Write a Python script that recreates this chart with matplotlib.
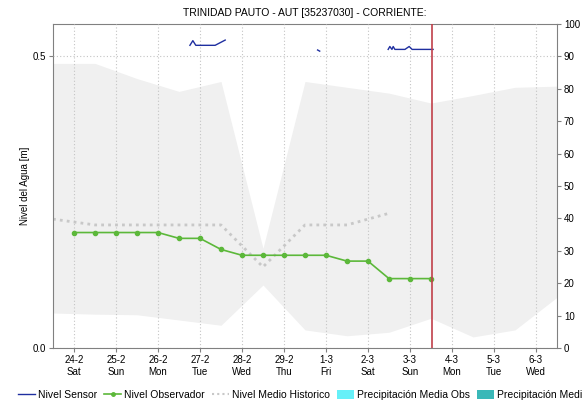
import numpy as np
import matplotlib
matplotlib.use("Agg")
import matplotlib.pyplot as plt
from matplotlib.lines import Line2D
from matplotlib.patches import Patch

plt.rcParams['font.family'] = ['Liberation Sans', 'DejaVu Sans']

# ---- data ----
day_labels = ["24-2\nSat", "25-2\nSun", "26-2\nMon", "27-2\nTue", "28-2\nWed", "29-2\nThu",
              "1-3\nFri", "2-3\nSat", "3-3\nSun", "4-3\nMon", "5-3\nTue", "6-3\nWed"]

obs_x = [0, 0.5, 1, 1.5, 2, 2.5, 3, 3.5, 4, 4.5, 5, 5.5, 6, 6.5, 7, 7.5, 8, 8.5]
obs_y = [0.198, 0.198, 0.198, 0.198, 0.198, 0.188, 0.188, 0.169, 0.159, 0.159,
         0.159, 0.159, 0.159, 0.149, 0.149, 0.119, 0.119, 0.119]

hist_x = [-0.5, 0.5, 1.5, 2.5, 3.5, 4.5, 5.5, 6.5, 7.5]
hist_y = [0.221, 0.211, 0.211, 0.211, 0.211, 0.139, 0.211, 0.211, 0.231]

band_x = [-0.5, 0.5, 1.5, 2.5, 3.5, 4.5, 5.5, 6.5, 7.5, 8.5, 9.5, 10.5, 11.5]
band_hi = [0.488, 0.488, 0.462, 0.440, 0.457, 0.171, 0.457, 0.447, 0.437, 0.420, 0.433, 0.447, 0.449]
band_lo = [0.060, 0.058, 0.057, 0.048, 0.039, 0.108, 0.031, 0.021, 0.027, 0.051, 0.019, 0.031, 0.087]

sensor_x = [2.76, 2.83, 2.90, 3.36, 3.60, np.nan, 5.80, 5.85, np.nan,
            7.48, 7.52, 7.57, 7.60, 7.64, 7.71, 7.88, 7.98, 8.05, 8.55]
sensor_y = [0.519, 0.527, 0.519, 0.519, 0.528, np.nan, 0.511, 0.509, np.nan,
            0.512, 0.517, 0.512, 0.517, 0.512, 0.512, 0.512, 0.517, 0.512, 0.512]

now_x = 8.52

title = "TRINIDAD PAUTO - AUT [35237030] - CORRIENTE:"

# ---- plot ----
fig = plt.figure(figsize=(5.82, 4.05), dpi=100)
ax = fig.add_axes([53/582, 1-348/405, (557-53)/582, (348-24)/405])

ax.fill_between(band_x, band_lo, band_hi, color='#f0f0f0', linewidth=0, zorder=1)
ax.plot(hist_x, hist_y, color='#c8c8c8', linestyle=(0, (1, 1.5)), linewidth=2, zorder=2)
ax.plot(obs_x, obs_y, color='#5cb83a', marker='o', markersize=3, linewidth=1.2, zorder=3)
ax.plot(sensor_x, sensor_y, color='#1f2fa0', linewidth=1, zorder=3)
ax.axvline(now_x, color='#c0404a', linewidth=1.2, zorder=4)

ax.set_xlim(-0.5, 11.5)
ax.set_ylim(0, 0.5 * 100 / 90)
ax.set_xticks(range(len(day_labels)))
ax.set_xticklabels(day_labels, fontsize=7)
ax.set_yticks([0.0, 0.5])
ax.set_yticklabels(["0.0", "0.5"], fontsize=7)
ax.tick_params(axis='both', length=3, color='#808080', pad=2)
ax.xaxis.grid(True, color='#c4c4c4', linestyle=(0, (1, 2)), linewidth=0.8)
ax.yaxis.grid(True, color='#c4c4c4', linestyle=(0, (1, 2)), linewidth=0.8)
ax.set_axisbelow(False)
for s in ['left', 'top', 'right']:
    ax.spines[s].set_color('#808080')
ax.spines['bottom'].set_color('#808080')
ax.spines['bottom'].set_linestyle((0, (1, 1)))
ax.set_ylabel("Nivel del Agua [m]", fontsize=7, labelpad=2)
ax.set_title(title, fontsize=7.5, pad=6)

ax2 = ax.twinx()
ax2.set_ylim(0, 100)
ax2.set_yticks(range(0, 101, 10))
ax2.set_yticklabels([str(v) for v in range(0, 101, 10)], fontsize=7)
ax2.tick_params(axis='y', length=3, color='#808080', pad=2)
for s in ax2.spines.values():
    s.set_visible(False)

handles = [
    Line2D([], [], color='#1f2fa0', linewidth=1),
    Line2D([], [], color='#5cb83a', marker='o', markersize=2.5, linewidth=1.2),
    Line2D([], [], color='#c8c8c8', linestyle=(0, (1, 1.5)), linewidth=1.5),
    Patch(facecolor='#66f0f8', edgecolor='none'),
    Patch(facecolor='#3ab8b8', edgecolor='none'),
]
labels = ["Nivel Sensor", "Nivel Observador", "Nivel Medio Historico",
          "Precipitación Media Obs", "Precipitación Media Pronosticada"]
fig.legend(handles, labels, loc='center left', bbox_to_anchor=(18/582, 1-395/405),
           ncol=5, frameon=False, fontsize=7.5, handlelength=1.6, handletextpad=0.3,
           columnspacing=0.7, handleheight=0.9, borderpad=0, borderaxespad=0)

fig.savefig("out.png", dpi=100)
